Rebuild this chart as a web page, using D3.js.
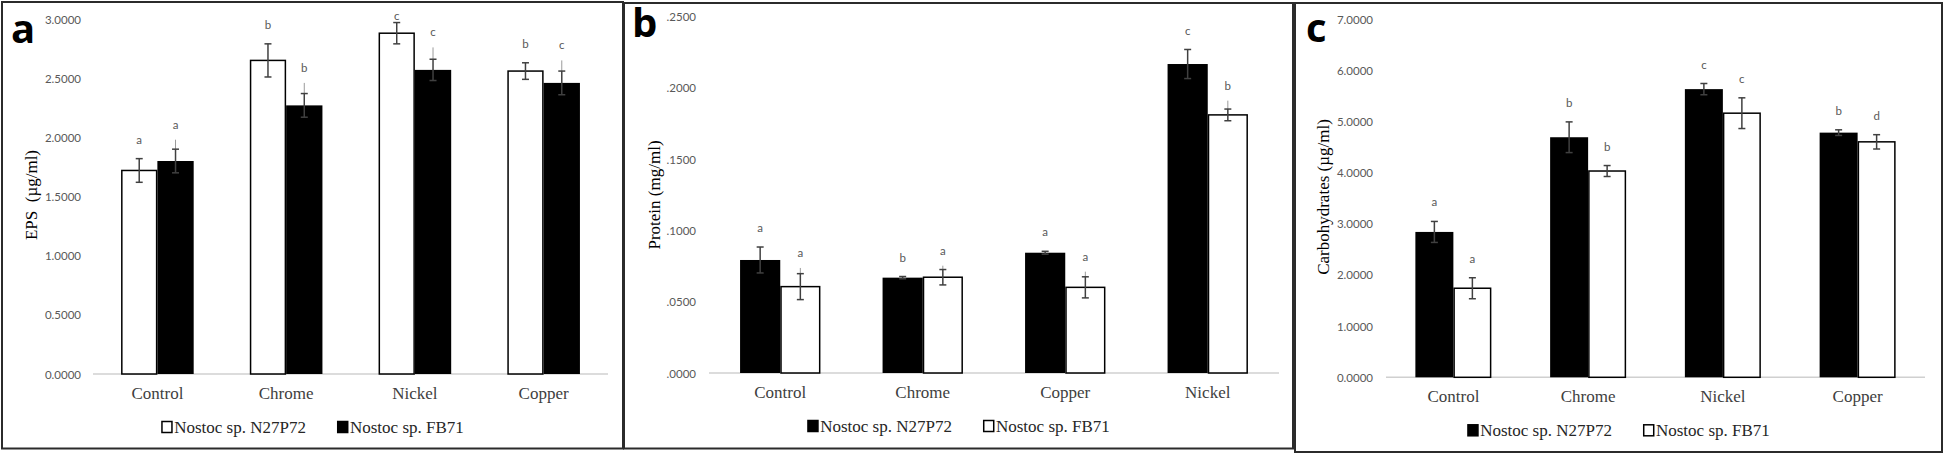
<!DOCTYPE html>
<html>
<head>
<meta charset="utf-8">
<script src="https://cdn.jsdelivr.net/npm/d3@7"></script>
<style>
  html, body { margin: 0; padding: 0; background: #fff; }
  svg { display: block; }
  .serif { font-family: "Liberation Serif", "Times New Roman", Times, serif; }
  .calib { font-family: Lato, "Open Sans", sans-serif; }
</style>
</head>
<body>
<svg id="chart" width="1944" height="455"></svg>
<script>
// ---------- DATA ----------
const seriesNames = ["Nostoc sp. N27P72", "Nostoc sp. FB71"];

// Panel a: EPS (µg/ml)
const epsCategories = ["Control", "Chrome", "Nickel", "Copper"];
const epsN27P72 = [1.72, 2.65, 2.88, 2.56];
const epsFB71 = [1.80, 2.27, 2.57, 2.46];
const epsN27P72Err = [0.10, 0.14, 0.09, 0.07];
const epsFB71Err = [0.10, 0.10, 0.09, 0.10];
const epsFB71Leader = [1.98, 2.46, 2.76, 2.65];   // faint grey leader lines above error bars
const epsN27P72Letters = ["a", "b", "c", "b"];
const epsFB71Letters = ["a", "b", "c", "c"];
const epsTicks = [0, 0.5, 1.0, 1.5, 2.0, 2.5, 3.0];

// Panel b: Protein (mg/ml)
const proteinCategories = ["Control", "Chrome", "Copper", "Nickel"];
const proteinN27P72 = [0.0793, 0.0669, 0.0844, 0.2168];
const proteinFB71 = [0.0606, 0.0672, 0.0601, 0.1811];
const proteinN27P72Err = [0.0091, 0.0008, 0.0010, 0.0102];
const proteinFB71Err = [0.0091, 0.0054, 0.0074, 0.0041];
const proteinFB71Leader = [0.0737, 0.0753, 0.0711, 0.1911];
const proteinN27P72Letters = ["a", "b", "a", "c"];
const proteinFB71Letters = ["a", "a", "a", "b"];
const proteinTicks = [0, 0.05, 0.10, 0.15, 0.20, 0.25];

// Panel c: Carbohydrates (µg/ml)
const carbCategories = ["Control", "Chrome", "Nickel", "Copper"];
const carbN27P72 = [2.84, 4.69, 5.63, 4.78];
const carbFB71 = [1.74, 4.03, 5.16, 4.60];
const carbN27P72Err = [0.205, 0.30, 0.11, 0.055];
const carbFB71Err = [0.205, 0.107, 0.30, 0.14];
const carbN27P72Letters = ["a", "b", "c", "b"];
const carbFB71Letters = ["a", "b", "c", "d"];
const carbTicks = [0, 1, 2, 3, 4, 5, 6, 7];

// ---------- DRAW ----------
const svg = d3.select("#chart");
const fmt4 = d3.format(".4f");
const fmtNoLead = v => fmt4(v).replace(/^0(?=\.)/, "");

function drawPanel(cfg) {
  const g = svg.append("g");
  // frame
  g.append("rect")
    .attr("x", cfg.box[0]).attr("y", cfg.box[1])
    .attr("width", cfg.box[2] - cfg.box[0]).attr("height", cfg.box[3] - cfg.box[1])
    .attr("fill", "none").attr("stroke", "#2b2b2b").attr("stroke-width", 2);

  // panel letter
  g.append("text")
    .attr("x", cfg.tag[0]).attr("y", cfg.tag[1])
    .style("font-family", "'Open Sans', sans-serif").style("font-weight", 700)
    .style("font-size", "40px").attr("fill", "#000").text(cfg.tagText);

  const x = d3.scaleBand().domain(cfg.categories).range([cfg.x0, cfg.x1]).padding(0);
  const y = d3.scaleLinear().domain([0, cfg.max]).range([cfg.y0, cfg.yTop]);
  const bw = x.bandwidth() * 0.282;

  // y tick labels (no axis line)
  const yAxis = d3.axisLeft(y).tickValues(cfg.ticks).tickFormat(cfg.fmt).tickSize(0).tickPadding(0);
  const ya = g.append("g").attr("transform", `translate(${cfg.tickX},0)`).call(yAxis);
  ya.attr("font-family", null).attr("font-size", null);
  ya.select(".domain").remove();
  ya.selectAll("text").attr("class", "calib")
    .style("font-size", "11.5px").attr("fill", "#595959").attr("dy", "0.35em");

  // baseline
  g.append("line")
    .attr("x1", cfg.x0).attr("x2", cfg.x1).attr("y1", y(0)).attr("y2", y(0))
    .attr("stroke", "#d0d0d0").attr("stroke-width", 1.5);

  const series = [
    { vals: cfg.s1, errs: cfg.e1, letters: cfg.l1, lead: null, fill: cfg.fills[0], off: -bw },
    { vals: cfg.s2, errs: cfg.e2, letters: cfg.l2, lead: cfg.lead2 || null, fill: cfg.fills[1], off: 0 }
  ];

  series.forEach(s => {
    const data = cfg.categories.map((c, i) => ({ c, v: s.vals[i], e: s.errs[i], l: s.letters[i], k: s.lead ? s.lead[i] : null }));
    const cx = d => x(d.c) + x.bandwidth() / 2 + s.off;
    const hollow = s.fill === "#fff";
    g.selectAll(null).data(data).enter().append("rect")
      .attr("x", d => cx(d) + (hollow ? 0.75 : 0))
      .attr("y", d => y(d.v))
      .attr("width", bw - (hollow ? 1.5 : 0))
      .attr("height", d => y(0) - y(d.v))
      .attr("fill", s.fill)
      .attr("stroke", hollow ? "#000" : "none")
      .attr("stroke-width", 1.5);
    // faint leader lines
    g.selectAll(null).data(data.filter(d => d.k !== null)).enter().append("line")
      .attr("x1", d => cx(d) + bw / 2).attr("x2", d => cx(d) + bw / 2)
      .attr("y1", d => y(d.v + d.e)).attr("y2", d => y(d.k))
      .attr("stroke", "#9a9a9a").attr("stroke-width", 1);
    // error bars
    const eg = g.selectAll(null).data(data).enter().append("g")
      .attr("stroke", "#404040").attr("stroke-width", 1.5);
    eg.append("line")
      .attr("x1", d => cx(d) + bw / 2).attr("x2", d => cx(d) + bw / 2)
      .attr("y1", d => y(d.v + d.e)).attr("y2", d => y(d.v - d.e));
    eg.append("line")
      .attr("x1", d => cx(d) + bw / 2 - 3.5).attr("x2", d => cx(d) + bw / 2 + 3.5)
      .attr("y1", d => y(d.v + d.e)).attr("y2", d => y(d.v + d.e));
    eg.append("line")
      .attr("x1", d => cx(d) + bw / 2 - 3.5).attr("x2", d => cx(d) + bw / 2 + 3.5)
      .attr("y1", d => y(d.v - d.e)).attr("y2", d => y(d.v - d.e));
    // significance letters
    g.selectAll(null).data(data).enter().append("text")
      .attr("class", "calib")
      .attr("x", d => cx(d) + bw / 2)
      .attr("y", d => Math.max(Math.min(y(d.v + d.e), d.k !== null ? y(d.k) + 4 : 1e9) - 19, cfg.yTop - 3))
      .attr("dy", "0.35em")
      .attr("text-anchor", "middle")
      .style("font-size", "11.5px")
      .attr("fill", "#595959").text(d => d.l);
  });

  // category labels
  const xAxis = d3.axisBottom(x).tickSize(0).tickPadding(0);
  const xa = g.append("g").attr("transform", `translate(0,${y(0) + 25})`).call(xAxis);
  xa.attr("font-family", null).attr("font-size", null);
  xa.select(".domain").remove();
  xa.selectAll("text").attr("class", "serif")
    .style("font-size", "17px").attr("fill", "#404040").attr("dy", 0);

  // y title
  g.append("text")
    .attr("class", "serif")
    .attr("transform", `translate(${cfg.titleX},${cfg.titleY}) rotate(-90)`)
    .attr("text-anchor", "middle").attr("dy", "0.35em")
    .style("font-size", "17px").style("white-space", "pre")
    .attr("fill", "#000").text(cfg.title);

  // legend
  const lg = g.append("g");
  const ly = y(0) + 53;
  let cursor = 0;
  seriesNames.forEach((name, i) => {
    const it = lg.append("g").attr("transform", `translate(${cursor},0)`);
    it.append("rect").attr("x", 0.75).attr("y", ly - 5.5).attr("width", 10).attr("height", 11)
      .attr("fill", cfg.fills[i]).attr("stroke", "#000").attr("stroke-width", 1.5);
    const t = it.append("text").attr("class", "serif").attr("x", 13).attr("y", ly + 5.5)
      .style("font-size", "17px").attr("fill", "#262626").text(name);
    const w = 13 + t.node().getComputedTextLength();
    cursor += w + 31;
  });
  const total = cursor - 31;
  const cxPanel = (cfg.box[0] + cfg.box[2]) / 2;
  lg.attr("transform", `translate(${cxPanel - total / 2},0)`);
}

drawPanel({
  box: [2, 2, 623, 448.5], tag: [11, 43], tagText: "a",
  categories: epsCategories, s1: epsN27P72, s2: epsFB71, e1: epsN27P72Err, e2: epsFB71Err,
  lead2: epsFB71Leader,
  l1: epsN27P72Letters, l2: epsFB71Letters, fills: ["#fff", "#000"],
  ticks: epsTicks, max: 3.0, fmt: fmt4,
  x0: 93, x1: 608, y0: 374, yTop: 19, tickX: 81,
  title: "EPS  (µg/ml)", titleX: 31, titleY: 195
});

drawPanel({
  box: [624, 3, 1293, 448.5], tag: [632, 37], tagText: "b",
  categories: proteinCategories, s1: proteinN27P72, s2: proteinFB71, e1: proteinN27P72Err, e2: proteinFB71Err,
  lead2: proteinFB71Leader,
  l1: proteinN27P72Letters, l2: proteinFB71Letters, fills: ["#000", "#fff"],
  ticks: proteinTicks, max: 0.25, fmt: fmtNoLead,
  x0: 709, x1: 1279, y0: 373, yTop: 16.7, tickX: 696,
  title: "Protein (mg/ml)", titleX: 654, titleY: 195
});

drawPanel({
  box: [1295, 3, 1942, 452], tag: [1306, 42], tagText: "c",
  categories: carbCategories, s1: carbN27P72, s2: carbFB71, e1: carbN27P72Err, e2: carbFB71Err,
  l1: carbN27P72Letters, l2: carbFB71Letters, fills: ["#000", "#fff"],
  ticks: carbTicks, max: 7, fmt: fmt4,
  x0: 1386, x1: 1925, y0: 377.3, yTop: 19, tickX: 1373,
  title: "Carbohydrates (µg/ml)", titleX: 1323, titleY: 197
});
</script>
</body>
</html>
